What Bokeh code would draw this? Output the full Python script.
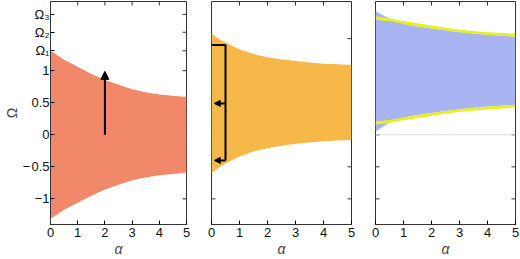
from bokeh.plotting import figure
from bokeh.layouts import row
from bokeh.models import FixedTicker, Arrow, NormalHead, Span
from bokeh.embed import file_html
from bokeh.resources import INLINE

# ---------------- data ----------------
alpha = [0, 0.25, 0.5, 1, 1.5, 2, 2.5, 3, 3.5, 4, 4.5, 5]

red_upper = [1.31, 1.24, 1.17, 1.06, 0.95, 0.855, 0.78, 0.71, 0.665, 0.63, 0.61, 0.59]
red_lower = [-1.31, -1.24, -1.17, -1.06, -0.95, -0.855, -0.78, -0.71, -0.665, -0.63, -0.61, -0.59]

orange_upper = [1.58, 1.50, 1.44, 1.33, 1.26, 1.21, 1.175, 1.15, 1.13, 1.11, 1.10, 1.09]
orange_lower = [-0.60, -0.52, -0.45, -0.34, -0.26, -0.21, -0.17, -0.14, -0.12, -0.10, -0.09, -0.08]

blue_upper = [1.93, 1.87, 1.81, 1.73, 1.69, 1.66, 1.63, 1.60, 1.58, 1.56, 1.545, 1.53]
blue_lower = [0.05, 0.12, 0.19, 0.27, 0.31, 0.34, 0.37, 0.40, 0.42, 0.44, 0.455, 0.47]

yellow_hi_top = [1.85, 1.83, 1.815, 1.775, 1.74, 1.705, 1.67, 1.64, 1.62, 1.60, 1.59, 1.575]
yellow_hi_bot = [1.80, 1.78, 1.77, 1.73, 1.69, 1.66, 1.63, 1.60, 1.58, 1.56, 1.545, 1.53]
yellow_lo_top = [0.21, 0.22, 0.23, 0.27, 0.31, 0.34, 0.37, 0.40, 0.42, 0.44, 0.455, 0.47]
yellow_lo_bot = [0.16, 0.17, 0.185, 0.225, 0.26, 0.295, 0.33, 0.36, 0.38, 0.395, 0.41, 0.425]

x_ticks = [0, 1, 2, 3, 4, 5]
num_ticks = [-1, -0.5, 0, 0.5, 1]
num_labels = ["\u22121", "\u2212\u200a0.5", "0", "0.5", "1"]
omega_ticks = [1.31, 1.60, 1.88]
omega_labels = ["\u03a9\u2081", "\u03a9\u2082", "\u03a9\u2083"]
plain_ticks = [-1, -0.5, 0, 0.5, 1, 1.5]

# panel 1 arrow
arr1_x0, arr1_y0, arr1_x1, arr1_y1 = 2, 0, 2, 0.99
# panel 2 bracket path and arrows
path2_x = [0, 0.5, 0.5]
path2_y = [1.40, 1.40, -0.40]
arr2_x0 = [0.5, 0.5]
arr2_x1 = [0.1, 0.1]
arr2_y = [0.49, -0.40]

X_RANGE = (0, 5)
Y_RANGE = (-1.4, 2.08)

RED = "#F2886A"
ORANGE = "#F7B84A"
BLUE = "#A8B5F2"
YELLOW = "#E6F01E"

FONT = "Liberation Sans"
H = 259
FRAME_COL = "#333333"


def make_fig(width, left, right, yticks, ylabels=None, ylabel=None):
    p = figure(width=width, height=H, x_range=X_RANGE, y_range=Y_RANGE,
               output_backend="svg", toolbar_location=None,
               min_border_left=left, min_border_right=right,
               min_border_top=1, min_border_bottom=34)
    p.grid.visible = False
    p.outline_line_color = FRAME_COL
    p.outline_line_width = 1
    p.background_fill_color = "white"
    p.border_fill_color = "white"

    xa = p.xaxis[0]
    xa.ticker = FixedTicker(ticks=x_ticks)
    xa.axis_label = "\u03b1"
    xa.axis_label_text_font = FONT
    xa.axis_label_text_font_style = "italic"
    xa.axis_label_text_font_size = "14px"
    xa.axis_label_standoff = 1
    xa.major_label_text_font = FONT
    xa.major_label_text_font_size = "13px"
    xa.major_label_text_color = "#111111"
    xa.major_label_standoff = 3
    xa.major_tick_in = 4
    xa.major_tick_out = 0
    xa.minor_tick_line_color = None
    xa.axis_line_color = FRAME_COL

    ya = p.yaxis[0]
    if ylabels is None:
        ya.visible = False
        # inward ticks on the left edge
        p.scatter(x=[X_RANGE[0]] * len(yticks), y=yticks, marker="dash",
                  size=8, line_color=FRAME_COL, line_width=1)
    else:
        ya.ticker = FixedTicker(ticks=yticks)
        ya.major_tick_in = 4
        ya.major_tick_out = 0
        ya.minor_tick_line_color = None
        ya.axis_line_color = FRAME_COL
        ya.major_label_text_font = FONT
        ya.major_label_text_color = "#111111"
        ya.major_label_text_font_size = "13px"
        ya.major_label_overrides = {t: l for t, l in zip(yticks, ylabels)}
        ya.major_label_standoff = 1
        ya.axis_label = ylabel
        ya.axis_label_text_font = FONT
        ya.axis_label_text_font_style = "normal"
        ya.axis_label_text_font_size = "14px"
        ya.axis_label_standoff = 0

    # tick marks on top and right edges (inward)
    p.scatter(x=x_ticks[1:-1], y=[Y_RANGE[1]] * (len(x_ticks) - 2), marker="dash",
              size=8, angle=1.5708, line_color=FRAME_COL, line_width=1)
    p.scatter(x=[X_RANGE[1]] * len(yticks), y=yticks, marker="dash",
              size=8, line_color=FRAME_COL, line_width=1)
    return p


# Panel 1
p1 = make_fig(198, 46, 12, num_ticks + omega_ticks, num_labels + omega_labels, "\u03a9")
p1.varea(x=alpha, y1=red_lower, y2=red_upper, fill_color=RED, fill_alpha=1)
p1.add_layout(Arrow(end=NormalHead(size=8, fill_color="black", line_color="black"),
                    x_start=arr1_x0, y_start=arr1_y0, x_end=arr1_x1, y_end=arr1_y1,
                    line_color="black", line_width=2))

# Panel 2
p2 = make_fig(165, 13, 12, plain_ticks)
p2.varea(x=alpha, y1=orange_lower, y2=orange_upper, fill_color=ORANGE, fill_alpha=1)
p2.line(x=path2_x, y=path2_y, line_color="black", line_width=2)
for xs, xe, yy in zip(arr2_x0, arr2_x1, arr2_y):
    p2.add_layout(Arrow(end=NormalHead(size=6, fill_color="black", line_color="black"),
                        x_start=xs, y_start=yy, x_end=xe, y_end=yy,
                        line_color="black", line_width=2))

# Panel 3
p3 = make_fig(157, 12, 5, plain_ticks)
p3.add_layout(Span(location=0, dimension="width", line_color="#dcdcdc", line_width=1))
p3.varea(x=alpha, y1=blue_lower, y2=blue_upper, fill_color=BLUE, fill_alpha=1)
p3.varea(x=alpha, y1=yellow_hi_bot, y2=yellow_hi_top, fill_color=YELLOW, fill_alpha=1)
p3.varea(x=alpha, y1=yellow_lo_bot, y2=yellow_lo_top, fill_color=YELLOW, fill_alpha=1)

layout = row(p1, p2, p3)
open("out.html", "w").write(file_html(layout, INLINE))
